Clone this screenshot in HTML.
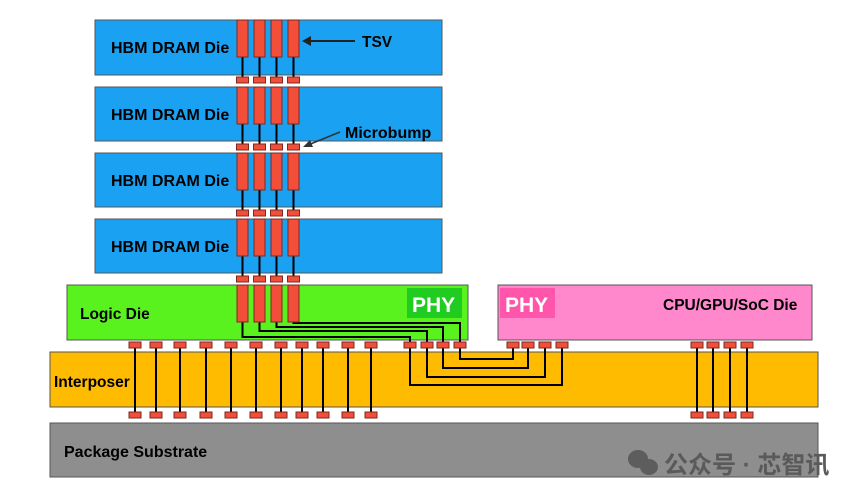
<!DOCTYPE html>
<html><head><meta charset="utf-8"><style>
html,body{margin:0;padding:0;background:#fff;width:865px;height:497px;overflow:hidden}
svg{display:block}
text{font-family:"Liberation Sans",Arial,sans-serif;font-weight:bold}
</style></head><body>
<svg width="865" height="497" viewBox="0 0 865 497" xmlns="http://www.w3.org/2000/svg">
<defs>
<g id="tsvset">
 <line x1="242.5" y1="0" x2="242.5" y2="57" stroke="#000" stroke-width="2"/>
 <line x1="259.5" y1="0" x2="259.5" y2="57" stroke="#000" stroke-width="2"/>
 <line x1="276.5" y1="0" x2="276.5" y2="57" stroke="#000" stroke-width="2"/>
 <line x1="293.5" y1="0" x2="293.5" y2="57" stroke="#000" stroke-width="2"/>
 <g fill="#f24e3a" stroke="#7a2a20" stroke-width="1">
 <rect x="237" y="0" width="11" height="37"/><rect x="254" y="0" width="11" height="37"/>
 <rect x="271" y="0" width="11" height="37"/><rect x="288" y="0" width="11" height="37"/>
 <rect x="236.5" y="57" width="12" height="6"/><rect x="253.5" y="57" width="12" height="6"/>
 <rect x="270.5" y="57" width="12" height="6"/><rect x="287.5" y="57" width="12" height="6"/>
 </g>
</g>
</defs>
<g fill="#1ba1f2" stroke="#555" stroke-width="1">
<rect x="95" y="20" width="347" height="55"/>
<rect x="95" y="87" width="347" height="54"/>
<rect x="95" y="153" width="347" height="54"/>
<rect x="95" y="219" width="347" height="54"/>
</g>
<g font-size="16" fill="#000">
<text x="111" y="53">HBM DRAM Die</text>
<text x="111" y="120">HBM DRAM Die</text>
<text x="111" y="186">HBM DRAM Die</text>
<text x="111" y="252">HBM DRAM Die</text>
</g>
<use href="#tsvset" y="20"/><use href="#tsvset" y="87"/><use href="#tsvset" y="153"/><use href="#tsvset" y="219"/>
<line x1="355" y1="41" x2="306" y2="41" stroke="#222" stroke-width="2"/>
<polygon points="302,41 311,36 311,46" fill="#222"/>
<text x="362" y="47" font-size="15.5">TSV</text>
<line x1="340" y1="132" x2="308" y2="145" stroke="#333" stroke-width="1.5"/>
<polygon points="303,147 310,140 313,147" fill="#333"/>
<text x="345" y="138" font-size="16">Microbump</text>
<rect x="67" y="285" width="401" height="55" fill="#5af21e" stroke="#555"/>
<rect x="407" y="288" width="55" height="30" fill="#1fcc1f"/>
<text x="412" y="312" font-size="21" fill="#fff" font-weight="normal">PHY</text>
<text x="80" y="319" font-size="15.5">Logic Die</text>
<rect x="498" y="285" width="314" height="55" fill="#ff88cc" stroke="#555"/>
<rect x="500" y="288" width="55" height="30" fill="#ff55aa"/>
<text x="505" y="312" font-size="21" fill="#fff" font-weight="normal">PHY</text>
<text x="663" y="310" font-size="15.5">CPU/GPU/SoC Die</text>
<rect x="50" y="352" width="768" height="55" fill="#ffbb00" stroke="#555"/>
<text x="54" y="387" font-size="15.5">Interposer</text>
<rect x="50" y="423" width="768" height="54" fill="#8e8e8e" stroke="#555"/>
<text x="64" y="457" font-size="16">Package Substrate</text>
<g stroke="#000" stroke-width="2" fill="none">
<polyline points="242.5,320 242.5,337 410,337 410,345"/>
<polyline points="259.5,320 259.5,331 427,331 427,345"/>
<polyline points="276.5,320 276.5,327 443,327 443,345"/>
<polyline points="293.5,320 293.5,323 460,323 460,345"/>
<polyline points="410,348 410,385 562,385 562,348"/>
<polyline points="427,348 427,377 545,377 545,348"/>
<polyline points="443,348 443,368 528,368 528,348"/>
<polyline points="460,348 460,359 513,359 513,348"/>
<line x1="135" y1="345" x2="135" y2="414"/><line x1="156" y1="345" x2="156" y2="414"/>
<line x1="180" y1="345" x2="180" y2="414"/><line x1="206" y1="345" x2="206" y2="414"/>
<line x1="231" y1="345" x2="231" y2="414"/><line x1="256" y1="345" x2="256" y2="414"/>
<line x1="281" y1="345" x2="281" y2="414"/><line x1="302" y1="345" x2="302" y2="414"/>
<line x1="323" y1="345" x2="323" y2="414"/><line x1="348" y1="345" x2="348" y2="414"/>
<line x1="371" y1="345" x2="371" y2="414"/>
<line x1="697" y1="345" x2="697" y2="414"/><line x1="713" y1="345" x2="713" y2="414"/>
<line x1="730" y1="345" x2="730" y2="414"/><line x1="747" y1="345" x2="747" y2="414"/>
</g>
<g fill="#f24e3a" stroke="#7a2a20" stroke-width="1">
<rect x="237" y="285" width="11" height="37"/><rect x="254" y="285" width="11" height="37"/>
<rect x="271" y="285" width="11" height="37"/><rect x="288" y="285" width="11" height="37"/>
</g>
<g fill="#f24e3a" stroke="#7a2a20" stroke-width="1">
<rect x="129" y="342" width="12" height="6"/><rect x="150" y="342" width="12" height="6"/>
<rect x="174" y="342" width="12" height="6"/><rect x="200" y="342" width="12" height="6"/>
<rect x="225" y="342" width="12" height="6"/><rect x="250" y="342" width="12" height="6"/>
<rect x="275" y="342" width="12" height="6"/><rect x="296" y="342" width="12" height="6"/>
<rect x="317" y="342" width="12" height="6"/><rect x="342" y="342" width="12" height="6"/>
<rect x="365" y="342" width="12" height="6"/>
<rect x="404" y="342" width="12" height="6"/><rect x="421" y="342" width="12" height="6"/>
<rect x="437" y="342" width="12" height="6"/><rect x="454" y="342" width="12" height="6"/>
<rect x="507" y="342" width="12" height="6"/><rect x="522" y="342" width="12" height="6"/>
<rect x="539" y="342" width="12" height="6"/><rect x="556" y="342" width="12" height="6"/>
<rect x="691" y="342" width="12" height="6"/><rect x="707" y="342" width="12" height="6"/>
<rect x="724" y="342" width="12" height="6"/><rect x="741" y="342" width="12" height="6"/>
<rect x="129" y="412" width="12" height="6"/><rect x="150" y="412" width="12" height="6"/>
<rect x="174" y="412" width="12" height="6"/><rect x="200" y="412" width="12" height="6"/>
<rect x="225" y="412" width="12" height="6"/><rect x="250" y="412" width="12" height="6"/>
<rect x="275" y="412" width="12" height="6"/><rect x="296" y="412" width="12" height="6"/>
<rect x="317" y="412" width="12" height="6"/><rect x="342" y="412" width="12" height="6"/>
<rect x="365" y="412" width="12" height="6"/>
<rect x="691" y="412" width="12" height="6"/><rect x="707" y="412" width="12" height="6"/>
<rect x="724" y="412" width="12" height="6"/><rect x="741" y="412" width="12" height="6"/>
</g>
<g fill="#555" opacity="0.85">
<ellipse cx="638" cy="459" rx="10" ry="9"/>
<ellipse cx="649" cy="467" rx="9" ry="8"/>
</g>
<text x="664" y="473" font-size="24" fill="#5a5a5a" font-weight="normal" style='font-family:"Liberation Sans","Noto Sans CJK SC",sans-serif'>公众号 · 芯智讯</text>
</svg>
</body></html>
